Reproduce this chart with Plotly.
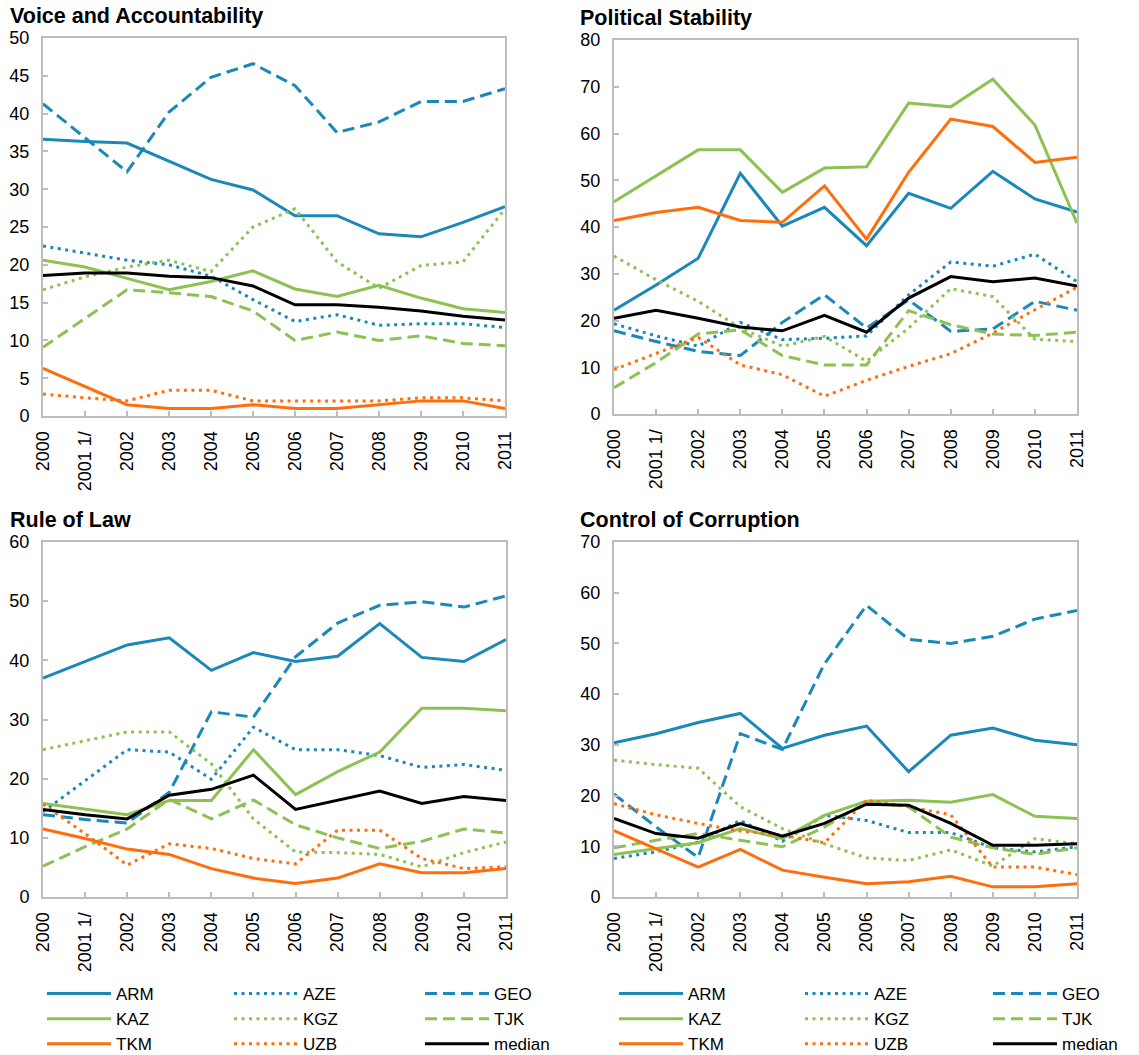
import plotly.graph_objects as go

# Category axis labels (year 2001 carries a footnote marker)
YEARS = ["2000", "2001 1/", "2002", "2003", "2004", "2005",
         "2006", "2007", "2008", "2009", "2010", "2011"]

SERIES = ["ARM", "AZE", "GEO", "KAZ", "KGZ", "TJK", "TKM", "UZB", "median"]

# Percentile ranks, Voice and Accountability
voice = {
    "ARM":    [36.6, 36.3, 36.1, 33.7, 31.3, 29.9, 26.5, 26.5, 24.1, 23.7, 25.6, 27.7],
    "AZE":    [22.5, 21.5, 20.6, 20.0, 18.5, 15.4, 12.5, 13.4, 12.0, 12.2, 12.2, 11.7],
    "GEO":    [41.3, 36.8, 32.3, 40.2, 44.8, 46.6, 43.7, 37.5, 38.9, 41.6, 41.6, 43.3],
    "KAZ":    [20.6, 19.7, 18.2, 16.7, 17.8, 19.2, 16.8, 15.8, 17.3, 15.6, 14.2, 13.7],
    "KGZ":    [16.7, 18.4, 19.7, 20.6, 19.1, 25.0, 27.4, 20.4, 16.9, 19.9, 20.4, 27.4],
    "TJK":    [9.1, 12.9, 16.7, 16.3, 15.8, 13.9, 10.0, 11.1, 10.0, 10.6, 9.6, 9.3],
    "TKM":    [6.3, 3.9, 1.5, 1.0, 1.0, 1.5, 1.0, 1.0, 1.5, 2.0, 2.0, 1.0],
    "UZB":    [2.9, 2.4, 2.0, 3.4, 3.4, 2.0, 2.0, 2.0, 2.0, 2.4, 2.4, 2.0],
    "median": [18.6, 18.9, 18.9, 18.5, 18.3, 17.2, 14.7, 14.7, 14.4, 13.9, 13.2, 12.7],
}

# Percentile ranks, Political Stability
stability = {
    "ARM":    [22.2, 27.6, 33.3, 51.5, 40.2, 44.2, 36.0, 47.2, 44.0, 51.9, 46.0, 43.2],
    "AZE":    [19.3, 16.7, 14.5, 19.6, 15.9, 16.2, 16.7, 25.5, 32.5, 31.6, 34.2, 28.3],
    "GEO":    [17.8, 15.5, 13.4, 12.5, 19.6, 25.5, 18.4, 24.4, 17.7, 18.2, 24.1, 22.2],
    "KAZ":    [45.4, 51.0, 56.5, 56.5, 47.4, 52.6, 52.9, 66.5, 65.7, 71.6, 61.8, 40.8],
    "KGZ":    [33.8, 28.7, 24.1, 18.4, 14.5, 16.6, 11.3, 18.4, 26.8, 25.1, 16.0, 15.5],
    "TJK":    [5.6, 11.0, 17.1, 18.0, 12.5, 10.5, 10.5, 22.1, 19.1, 17.1, 16.8, 17.5],
    "TKM":    [41.4, 43.1, 44.2, 41.4, 41.0, 48.8, 37.4, 51.7, 63.1, 61.5, 53.8, 54.9],
    "UZB":    [9.5, 12.9, 16.4, 10.5, 8.4, 3.8, 7.2, 10.2, 12.9, 17.3, 22.3, 27.1],
    "median": [20.5, 22.2, 20.5, 18.6, 17.8, 21.1, 17.5, 24.8, 29.4, 28.3, 29.1, 27.4],
}

# Percentile ranks, Rule of Law
rule_of_law = {
    "ARM":    [37.0, 39.8, 42.6, 43.8, 38.3, 41.3, 39.8, 40.7, 46.2, 40.5, 39.8, 43.5],
    "AZE":    [14.4, 19.7, 24.9, 24.5, 19.9, 28.7, 24.9, 24.9, 23.9, 21.9, 22.4, 21.4],
    "GEO":    [13.9, 13.1, 12.5, 17.7, 31.3, 30.4, 40.6, 46.3, 49.3, 49.9, 49.0, 50.9],
    "KAZ":    [15.8, 14.9, 13.9, 16.3, 16.3, 24.9, 17.3, 21.2, 24.5, 31.9, 31.9, 31.5],
    "KGZ":    [24.9, 26.4, 27.9, 27.9, 22.5, 13.2, 7.6, 7.5, 7.2, 5.1, 7.5, 9.3],
    "TJK":    [5.2, 8.5, 11.5, 16.5, 13.2, 16.4, 12.2, 10.0, 8.2, 9.4, 11.5, 10.8],
    "TKM":    [11.5, 9.9, 8.1, 7.2, 4.8, 3.2, 2.3, 3.2, 5.6, 4.1, 4.1, 4.8],
    "UZB":    [15.7, 10.7, 5.4, 9.0, 8.2, 6.5, 5.6, 11.3, 11.3, 6.5, 4.8, 5.1],
    "median": [14.8, 13.9, 13.2, 17.2, 18.2, 20.6, 14.8, 16.3, 17.9, 15.8, 17.0, 16.3],
}

# Percentile ranks, Control of Corruption
corruption = {
    "ARM":    [30.4, 32.2, 34.4, 36.2, 29.3, 31.9, 33.7, 24.7, 31.9, 33.3, 30.9, 30.0],
    "AZE":    [7.6, 8.9, 10.8, 15.1, 11.0, 16.1, 15.1, 12.7, 12.7, 9.7, 8.9, 9.9],
    "GEO":    [20.3, 13.8, 7.8, 32.2, 29.1, 46.0, 57.5, 50.8, 50.0, 51.4, 54.8, 56.5],
    "KAZ":    [8.4, 9.5, 10.7, 13.5, 11.5, 16.1, 18.9, 19.1, 18.7, 20.2, 15.9, 15.5],
    "KGZ":    [27.0, 26.1, 25.4, 17.8, 13.5, 10.5, 7.7, 7.2, 9.3, 6.1, 11.5, 10.5],
    "TJK":    [9.7, 11.2, 12.5, 11.2, 9.9, 13.8, 18.7, 17.8, 11.8, 9.7, 8.4, 9.7],
    "TKM":    [13.1, 9.5, 5.9, 9.4, 5.3, 3.9, 2.6, 3.0, 4.1, 2.0, 2.0, 2.6],
    "UZB":    [18.4, 16.2, 14.5, 13.0, 12.2, 10.7, 19.1, 17.8, 16.2, 5.9, 5.9, 4.4],
    "median": [15.5, 12.5, 11.6, 14.5, 12.0, 14.5, 18.3, 18.1, 14.5, 10.2, 10.2, 10.5],
}

BLUE = "#1A88B8"
GREEN = "#8DC153"
ORANGE = "#FF6D0D"
BLACK = "#000000"
DOT = "3px,4.5px"
DASH = "12px,6px"

STYLE = {
    "ARM": (BLUE, "solid", 3),
    "AZE": (BLUE, DOT, 3),
    "GEO": (BLUE, DASH, 3),
    "KAZ": (GREEN, "solid", 3),
    "KGZ": (GREEN, DOT, 3),
    "TJK": (GREEN, DASH, 3),
    "TKM": (ORANGE, "solid", 3),
    "UZB": (ORANGE, DOT, 3),
    "median": (BLACK, "solid", 3),
}

W, H = 1139, 1055
FONT = "Liberation Sans, Arial, sans-serif"
AXIS_GREY = "#BDBDBD"

# (title, data, ymax, dtick, x-left, x-right, y-top, y-bottom in px, legend column x positions)
PANELS = [
    ("Voice and Accountability", voice, 50, 5, 43, 505, 38, 416, [42, 229, 420]),
    ("Political Stability", stability, 80, 10, 614, 1077, 40, 414, [614, 800, 988]),
    ("Rule of Law", rule_of_law, 60, 10, 43, 506, 542, 897, None),
    ("Control of Corruption", corruption, 70, 10, 614, 1077, 542, 897, None),
]

# Legend entries are laid out as three columns under each chart column
LEGEND_COLUMNS = [["ARM", "KAZ", "TKM"], ["AZE", "KGZ", "UZB"], ["GEO", "TJK", "median"]]
LEGEND_TOP = 976

fig = go.Figure()
layout = {}
annotations = []
legend_count = 0

for i, (title, data, ymax, dtick, x0, x1, y0, y1, leg_x) in enumerate(PANELS, start=1):
    xa = "x" if i == 1 else f"x{i}"
    ya = "y" if i == 1 else f"y{i}"
    legend_of = {}
    if leg_x:
        for col, names in enumerate(LEGEND_COLUMNS):
            legend_count += 1
            lid = "legend" if legend_count == 1 else f"legend{legend_count}"
            for n in names:
                legend_of[n] = lid
            layout[lid] = dict(
                orientation="v", x=leg_x[col] / W, xanchor="left",
                y=1 - LEGEND_TOP / H, yanchor="top",
                itemwidth=64, tracegroupgap=0,
                font=dict(family=FONT, size=17, color="#000000"),
                bgcolor="rgba(0,0,0,0)", traceorder="normal",
            )
    for name in SERIES:
        color, dash, width = STYLE[name]
        fig.add_trace(go.Scatter(
            x=YEARS, y=data[name], mode="lines", name=name,
            line=dict(color=color, dash=dash, width=width),
            xaxis=xa, yaxis=ya,
            showlegend=name in legend_of,
            legend=legend_of.get(name, "legend"),
            hoverinfo="x+y+name",
        ))
    common = dict(
        showline=True, mirror=True, linecolor=AXIS_GREY, linewidth=2,
        ticks="inside", ticklen=5, tickwidth=1.5, tickcolor=AXIS_GREY,
        showgrid=False, zeroline=False,
        tickfont=dict(family=FONT, size=18, color="#000000"),
    )
    layout["xaxis" if i == 1 else f"xaxis{i}"] = dict(
        common, type="category", range=[0, len(YEARS) - 1],
        domain=[x0 / W, x1 / W], anchor=ya, tickangle=-90,
        ticklabelstandoff=6,
    )
    layout["yaxis" if i == 1 else f"yaxis{i}"] = dict(
        common, range=[0, ymax], dtick=dtick, tick0=0,
        domain=[1 - y1 / H, 1 - y0 / H], anchor=xa,
        ticklabelstandoff=8,
    )
    annotations.append(dict(
        text=f"<b>{title}</b>", xref="paper", yref="paper",
        x=(8 if x0 < 300 else 578) / W, y=1 - (y0 - 36) / H,
        xanchor="left", yanchor="top", showarrow=False,
        font=dict(family=FONT, size=21.5, color="#000000"),
    ))

fig.update_layout(
    **layout,
    annotations=annotations,
    width=W, height=H,
    margin=dict(l=0, r=0, t=0, b=0, autoexpand=False),
    paper_bgcolor="#FFFFFF", plot_bgcolor="#FFFFFF",
    showlegend=True,
)

fig.write_html("out.html")
